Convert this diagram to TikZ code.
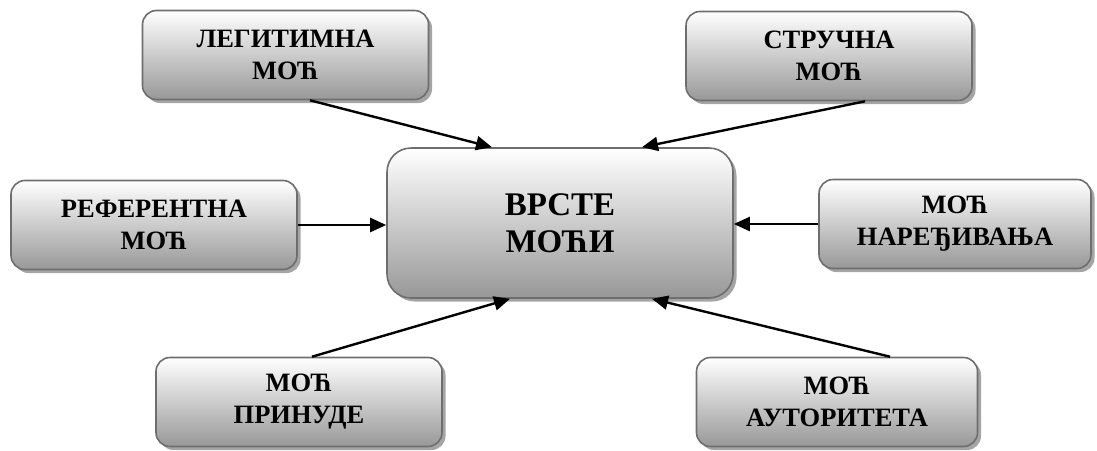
\documentclass[tikz,border=0pt]{standalone}
\usepackage{fontspec}
\setmainfont{Liberation Serif}
\definecolor{boxline}{RGB}{110, 110, 110}
\definecolor{boxbottom}{RGB}{152, 152, 152}
\definecolor{boxshadow}{RGB}{165, 165, 165}
\usetikzlibrary{arrows.meta, calc, shadows}

\begin{document}
\begin{tikzpicture}[
        x=1pt, y=-1pt,
        box/.style={rectangle, rounded corners=14pt, draw=boxline, line width=1.6pt,
                    top color=white, bottom color=boxbottom,
                    drop shadow={shadow xshift=3.5pt, shadow yshift=-3.5pt,
                                 fill=boxshadow, opacity=1},
                    minimum width=286pt, minimum height=89pt, inner sep=0pt,
                    align=center, font=\fontsize{26.5}{32}\selectfont\bfseries},
        mainbox/.style={box, rounded corners=24pt, minimum width=346pt,
                    minimum height=150pt, font=\fontsize{33}{37}\selectfont\bfseries},
        arrow/.style={-{Triangle[length=16pt, width=14pt]}, line width=2.4pt}
      ]
        \useasboundingbox (0,0) rectangle (1097,450);
        \node[mainbox] (vrste) at (560,223) {ВРСТЕ\\МОЋИ};
        \node[box] (leg) at (285.5,55) {ЛЕГИТИМНА\\МОЋ};
        \node[box] (str) at (829,56) {СТРУЧНА\\МОЋ};
        \node[box] (ref) at (154,225) {РЕФЕРЕНТНА\\МОЋ};
        \node[box, minimum width=272pt] (nar) at (955,224) {МОЋ\\НАРЕЂИВАЊА};
        \node[box] (pri) at (299,402) {МОЋ\\ПРИНУДЕ};
        \node[box, minimum width=281pt] (aut) at (837,402) {МОЋ\\АУТОРИТЕТА};
        \draw[arrow] ($(leg.south)+(24.5,0)$) -- ($(vrste.north)+(-68,0)$);
        \draw[arrow] ($(str.south)+(36,0)$)   -- ($(vrste.north)+(82,0)$);
        \draw[arrow] (ref.east) -- (vrste.west |- ref.east);
        \draw[arrow] (nar.west) -- (vrste.east |- nar.west);
        \draw[arrow] ($(pri.north)+(13,0)$)   -- ($(vrste.south)+(-50,0)$);
        \draw[arrow] ($(aut.north)+(53,0)$)   -- ($(vrste.south)+(92,0)$);
      \end{tikzpicture}
\end{document}
